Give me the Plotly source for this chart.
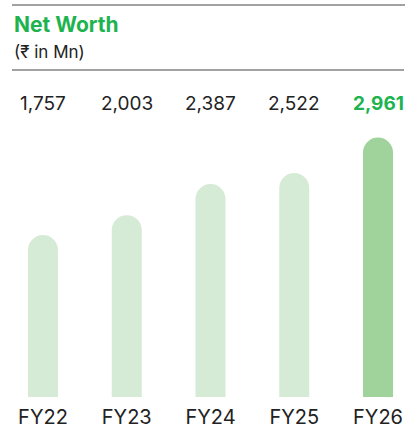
import plotly.graph_objects as go

categories = ["FY22", "FY23", "FY24", "FY25", "FY26"]
values = [1757, 2003, 2387, 2522, 2961]
value_labels = ["1,757", "2,003", "2,387", "2,522", "2,961"]
title_text = "Net Worth"
subtitle_text = "(₹ in Mn)"

W, H = 411, 430
plot_bottom_px = 397
axis_base = -242
axis_top = 4659
bar_base = -1000  # below the visible axis range so the bar foot is clipped flat

light = "#d5ebd5"
dark = "#9fd39b"
green = "#1db34f"
ink = "#222222"
font_family = "Inter, Noto Sans, DejaVu Sans, sans-serif"

colors = [light] * (len(values) - 1) + [dark]

fig = go.Figure()
fig.add_trace(go.Bar(
    x=categories,
    y=[v - bar_base for v in values],
    base=bar_base,
    marker=dict(color=colors, cornerradius=15, line=dict(width=0)),
    hoverinfo="skip",
))

def py(px):
    return (plot_bottom_px - px) / plot_bottom_px

annotations = [
    dict(x=12 / W, y=py(24), xref="paper", yref="paper", xanchor="left", yanchor="middle",
         text="<b>" + title_text + "</b>", showarrow=False,
         font=dict(family=font_family, size=21, color=green)),
    dict(x=12 / W, y=py(52), xref="paper", yref="paper", xanchor="left", yanchor="middle",
         text=subtitle_text, showarrow=False,
         font=dict(family=font_family, size=17, color=ink)),
]
for i, (c, lab) in enumerate(zip(categories, value_labels)):
    last = i == len(categories) - 1
    annotations.append(dict(
        x=c, y=py(103), xref="x", yref="paper", xanchor="center", yanchor="middle",
        text=("<b>" + lab + "</b>") if last else lab, showarrow=False,
        font=dict(family=font_family, size=19, color=green if last else ink),
    ))

shapes = [
    dict(type="line", xref="paper", yref="paper", x0=12 / W, x1=405 / W, y0=py(5), y1=py(5),
         line=dict(color="#444444", width=1)),
    dict(type="line", xref="paper", yref="paper", x0=12 / W, x1=404 / W, y0=py(70), y1=py(70),
         line=dict(color="#444444", width=1)),
]

px_per_cat = 83.75
r0 = -43 / px_per_cat
r1 = r0 + W / px_per_cat

fig.update_layout(
    width=W, height=H,
    margin=dict(l=0, r=0, t=0, b=H - plot_bottom_px),
    paper_bgcolor="white", plot_bgcolor="white",
    showlegend=False,
    bargap=1 - 30 / px_per_cat,
    annotations=annotations,
    shapes=shapes,
    xaxis=dict(range=[r0, r1], showgrid=False, zeroline=False, showline=False, ticks="",
               tickfont=dict(family=font_family, size=20, color=ink), ticklabelstandoff=6),
    yaxis=dict(range=[axis_base, axis_top], visible=False, showgrid=False, zeroline=False),
)

fig.write_html("out.html", config={"displayModeBar": False},
               post_script="document.body.style.margin='0';document.body.style.overflow='hidden';")
